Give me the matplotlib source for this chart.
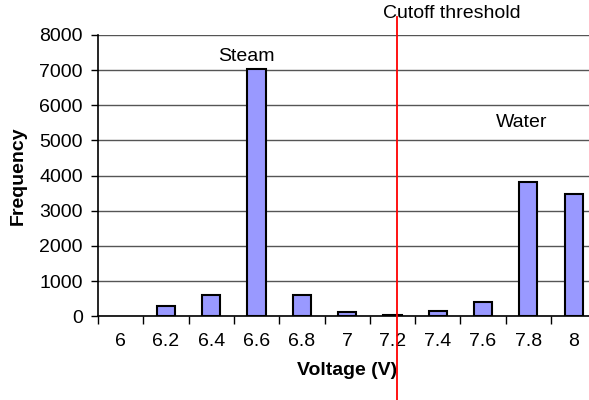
import matplotlib
matplotlib.use('Agg')
from matplotlib import pyplot as plt
import numpy as np

# histogram of sensor voltages
voltages = ['6', '6.2', '6.4', '6.6', '6.8', '7', '7.2', '7.4', '7.6', '7.8', '8']
counts = [0, 290, 600, 7020, 600, 120, 30, 160, 415, 3820, 3480]
cutoff = 7.22  # volts
labels = {'Steam': (3, 7380), 'Water': (9.08, 5500)}

plt.rcParams['font.family'] = ['Liberation Sans', 'DejaVu Sans']

fig = plt.figure(figsize=(5.89, 4.0), dpi=100)
# axes run a little past the right edge of the figure, like the original crop
ax = fig.add_axes([98 / 589, 83.7 / 400, 498.3 / 589, 281.3 / 400])

x = np.arange(len(voltages))
edges = ['black' if c > 0 else 'none' for c in counts]
ax.bar(x, counts, width=0.4, color='#9999FF', edgecolor=edges, linewidth=1.5, zorder=3)

ax.set_xlim(-0.5, len(voltages) - 0.5)
ax.set_ylim(0, 8000)
ax.set_yticks(np.arange(0, 8001, 1000))
ax.yaxis.grid(True, color='#555555', linewidth=1)
ax.set_axisbelow(True)

# ticks between categories, labels on the categories
ax.set_xticks(np.arange(-0.5, len(voltages), 1.0))
ax.set_xticklabels([])
ax.set_xticks(x, minor=True)
ax.set_xticklabels(voltages, minor=True)
ax.tick_params(axis='x', which='major', length=6, width=1, direction='out')
ax.tick_params(axis='x', which='minor', length=0, pad=12, labelsize=14)
ax.tick_params(axis='y', length=5, width=1, pad=6, labelsize=14)

for side in ['top', 'right']:
    ax.spines[side].set_visible(False)
ax.spines['left'].set_linewidth(1.2)
ax.spines['bottom'].set_linewidth(1.2)

ax.set_xlabel('Voltage (V)', fontsize=14, fontweight='bold', labelpad=9)
ax.set_ylabel('Frequency', fontsize=14, fontweight='bold', labelpad=9)

# cutoff line, runs off the bottom of the figure
cx = (cutoff - float(voltages[0])) / 0.2
ax.plot([cx, cx], [-0.3, 1.065], color='red', linewidth=1.3,
        transform=ax.get_xaxis_transform(), clip_on=False, zorder=4)
ax.text(cx - 0.3, 1.078, 'Cutoff threshold', fontsize=14, ha='left', va='center',
        transform=ax.get_xaxis_transform())

for name, (lx, ly) in labels.items():
    ax.text(lx - 0.22, ly, name, fontsize=14, ha='center', va='center')

plt.savefig('out.png', dpi=100)
